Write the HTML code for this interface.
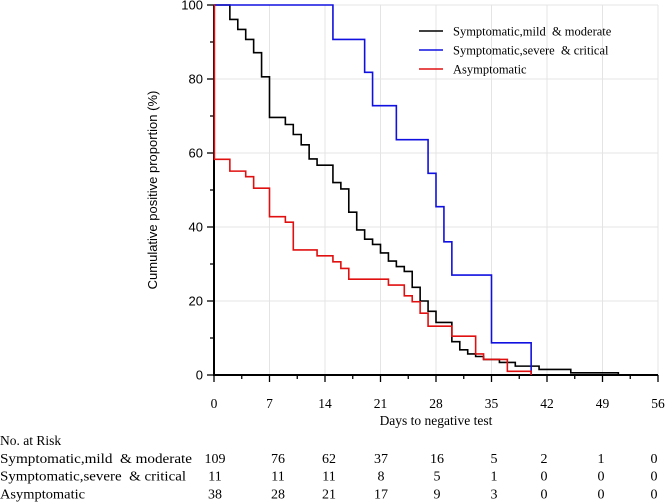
<!DOCTYPE html>
<html><head><meta charset="utf-8"><style>
body{margin:0;background:#fff;}
svg{display:block;font-family:"Liberation Serif",serif;}
</style></head><body>
<svg id="chart" width="666" height="503" viewBox="0 0 666 503"></svg>
<script>
const xTicks=[0,7,14,21,28,35,42,49,56];
const yTicks=[0,20,40,60,80,100];
const mildDays=[0,2,3,4,5,6,7,9,10,11,12,13,15,16,17,18,19,20,21,22,23,24,25,26,27,28,30,31,32,33,34,36,38,41,45,51];
const mildVals=[100,96.1,93.4,90.7,87.1,80.6,69.6,67.7,65.0,62.2,58.4,56.7,52.0,50.3,44.0,39.2,36.7,35.3,33.0,30.8,29.3,28.0,23.7,20.0,17.2,14.2,9.0,6.8,5.7,5.0,4.2,3.4,2.4,1.5,0.6,0];
const severeDays=[0,15,19,20,23,27,28,29,30,35,40];
const severeVals=[100,90.7,81.8,72.8,63.6,54.5,45.5,36.0,27.0,8.7,0];
const asymDays=[0,0.05,2,4,5,7,9,10,13,15,16,17,22,24,25,26,27,30,33,34,37,40];
const asymVals=[100,58.3,55.1,53.6,50.5,42.8,41.3,33.8,32.2,30.6,28.8,25.9,24.3,21.4,19.8,16.7,13.2,10.5,5.7,4.2,1.0,0];
const riskLabels=["Symptomatic,mild  & moderate","Symptomatic,severe  & critical","Asymptomatic"];
const riskMild=[109,76,62,37,16,5,2,1,0];
const riskSevere=[11,11,11,8,5,1,0,0,0];
const riskAsym=[38,28,21,17,9,3,0,0,0];

const NS="http://www.w3.org/2000/svg";
const svg=document.getElementById('chart');
const X0=214,X1=658,Y0=375,Y1=5;
const xs=d=>X0+(X1-X0)*d/56;
const ys=v=>Y0-(Y0-Y1)*v/100;
function mk(tag,attrs,parent){const e=document.createElementNS(NS,tag);for(const k in attrs)e.setAttribute(k,attrs[k]);(parent||svg).appendChild(e);return e;}

for(let d=7;d<=56;d+=7){const g=mk('line',{x1:xs(d),x2:xs(d),y1:Y1,y2:Y0,stroke:'#e4e4e4','stroke-width':1});

}
for(let v=20;v<=100;v+=20){const g=mk('line',{x1:X0,x2:X1,y1:ys(v),y2:ys(v),stroke:'#e4e4e4','stroke-width':1});

}

const ax=mk('line',{x1:X0,x2:X1,y1:Y0,y2:Y0,stroke:'#000','stroke-width':2});


const ay=mk('line',{x1:X0,x2:X0,y1:Y1,y2:Y0+1,stroke:'#000','stroke-width':2});


for(let d=0;d<=56;d+=3.5){const t=mk('line',{x1:xs(d),x2:xs(d),y1:Y0,y2:Y0+(d%7===0?7:4),stroke:'#000','stroke-width':1.3});

}
for(let v=0;v<=100;v+=10){const t=mk('line',{x1:X0-(v%20===0?7:4),x2:X0,y1:ys(v),y2:ys(v),stroke:'#000','stroke-width':1.3});

}
xTicks.forEach(d=>{const t=mk('text',{x:xs(d),y:408,'font-size':13.5,'text-anchor':'middle'});t.textContent=d;

});
yTicks.forEach(v=>{const t=mk('text',{x:203,y:ys(v)+4.5,'font-size':13,'text-anchor':'end','font-family':'Liberation Sans, sans-serif'});t.textContent=v;

});
const xt=mk('text',{x:436,y:425,'font-size':13.5,'text-anchor':'middle'});xt.textContent='Days to negative test';


const yt=mk('text',{x:157,y:190,'font-size':13,'text-anchor':'middle','font-family':'Liberation Sans, sans-serif',transform:'rotate(-90 157 190)'});yt.textContent='Cumulative positive proportion (%)';



function stepPath(days,vals){let p='M'+xs(days[0])+','+ys(vals[0]);
for(let i=1;i<days.length;i++){p+=' H'+xs(days[i])+' V'+ys(vals[i]);}return p;}
const s1=mk('path',{d:stepPath(mildDays,mildVals),fill:'none',stroke:'#000','stroke-width':1.6});


const s2=mk('path',{d:stepPath(severeDays,severeVals),fill:'none',stroke:'#1010e0','stroke-width':1.6});


const s3=mk('path',{d:stepPath(asymDays,asymVals),fill:'none',stroke:'#e01010','stroke-width':1.6});



const legCols=['#000','#1010e0','#e01010'];
riskLabels.forEach((l,i)=>{const y=31+i*19;
const ln=mk('line',{x1:419,x2:443,y1:y,y2:y,stroke:legCols[i],'stroke-width':1.6});


const t=mk('text',{x:453,y:y+4.5,'font-size':12.5});t.textContent=l;t.style.whiteSpace='pre';

});

const nr=mk('text',{x:0,y:445,'font-size':13.5});nr.textContent='No. at Risk';


const riskX=[215,278,329,381,437,494,544,601,654];
const labelW=[192,186,85];
[riskMild,riskSevere,riskAsym].forEach((row,r)=>{const y=463+r*17.7;
const lab=mk('text',{x:0,y:y,'font-size':14,textLength:labelW[r],lengthAdjust:'spacingAndGlyphs'});lab.textContent=riskLabels[r];lab.style.whiteSpace='pre';


row.forEach((n,i)=>{const t=mk('text',{x:riskX[i],y:y,'font-size':14,'text-anchor':'middle'});t.textContent=n;

});});
</script>
</body></html>
